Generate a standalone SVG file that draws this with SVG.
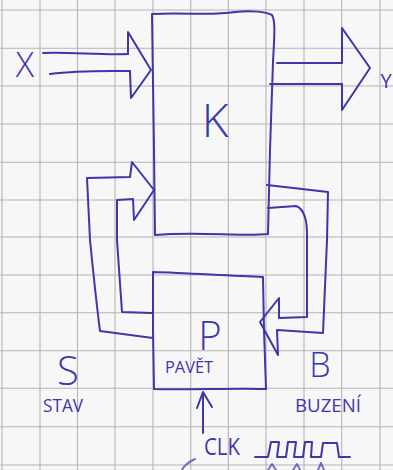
<svg xmlns="http://www.w3.org/2000/svg" width="393" height="470" viewBox="0 0 393 470">
<style>
.ink{fill:none;stroke:#3d37a8;stroke-width:2;stroke-linecap:round;stroke-linejoin:round}
.grid line{stroke:#b4b4b4;stroke-width:1.1}
.t{fill:#3d37a8;font-family:"Open Sans","Liberation Sans",sans-serif;font-weight:300;text-anchor:middle}
.s{font-weight:400}
</style>
<rect width="393" height="470" fill="#f7f7f7"/>
<g class="grid">
<line x1="2" y1="0" x2="2" y2="470"/>
<line x1="40" y1="0" x2="40" y2="470"/>
<line x1="77.5" y1="0" x2="77.5" y2="470"/>
<line x1="115" y1="0" x2="115" y2="470"/>
<line x1="153" y1="0" x2="153" y2="470"/>
<line x1="190.7" y1="0" x2="190.7" y2="470"/>
<line x1="228.3" y1="0" x2="228.3" y2="470"/>
<line x1="266" y1="0" x2="266" y2="470"/>
<line x1="304" y1="0" x2="304" y2="470"/>
<line x1="341.7" y1="0" x2="341.7" y2="470"/>
<line x1="380" y1="0" x2="380" y2="470"/>
<line x1="0" y1="10" x2="393" y2="10"/>
<line x1="0" y1="48.2" x2="393" y2="48.2"/>
<line x1="0" y1="86" x2="393" y2="86"/>
<line x1="0" y1="124" x2="393" y2="124"/>
<line x1="0" y1="162.2" x2="393" y2="162.2"/>
<line x1="0" y1="200" x2="393" y2="200"/>
<line x1="0" y1="237" x2="393" y2="237"/>
<line x1="0" y1="275" x2="393" y2="275"/>
<line x1="0" y1="312.7" x2="393" y2="312.7"/>
<line x1="0" y1="350.7" x2="393" y2="350.7"/>
<line x1="0" y1="388.3" x2="393" y2="388.3"/>
<line x1="0" y1="426.7" x2="393" y2="426.7"/>
<line x1="0" y1="465" x2="393" y2="465"/>
</g>
<g id="K">
<path class="ink" d="M152,14 C185,12 210,16 235,12 C252,10 266,12 272,15 C276,22 274,40 273,62 L270,150 L268,234 C240,237 200,231 155,235 L154,150 L152,14 Z"/>
<text class="t" x="215" y="137" font-size="46">K</text>
</g>
<g id="P">
<path class="ink" d="M153,272 C190,273 228,276 263,277 L264,330 L266,389 C230,388 190,390 154,389 L153,330 Z"/>
<text class="t" x="210" y="350" font-size="40">P</text>
<text class="t s" x="189" y="373" font-size="16" textLength="48" lengthAdjust="spacingAndGlyphs">PAVĚT</text>
</g>
<g id="connectors">
<path class="ink" d="M43,53 C70,52 100,55 128,54"/>
<path class="ink" d="M50,74 C80,70 110,71 130,71"/>
<path class="ink" d="M128,54 L128,32 L151,70 L131,98 L130,71"/>
<path class="ink" d="M277,63 H342"/>
<path class="ink" d="M270,84 H342"/>
<path class="ink" d="M342,63 L342,28 L370,68 L342,110 L342,84"/>
<path class="ink" d="M153,338 L100,331 Q96,300 90,240 L87,178 L130,177 L132,162 L154,190 L134,220 L133,199 L117,200 L117,240 L122,312 L152,313"/>
<path class="ink" d="M267,185 L328,192 L327,240 L323,333 L277,330 L278,355 L260,322 L279,298 L279,318 L307,317 L307,240 Q308,210 296,206 L268,208"/>
<path class="ink" d="M203,433 V392 M197,408 L203,392 L212,407"/>
<path class="ink" d="M255,457 H268 L271,442 H279 L277,457 H286 L288,442 H296 L294,457 H303 L305,442 H312 L311,457 H321 L323,443 H337 L339,457 H350"/>
<path class="ink" d="M195,459 C188,462 183,467 182,470 M268,470 L272,464 L276,470 M293,470 L297,464 L300,470 M318,470 L321,463 L324,470" stroke-width="1.2" opacity="0.7"/>
</g>
<g id="labels">
<text class="t s" x="386" y="88" font-size="20">Y</text>
<text class="t" x="25" y="77" font-size="34">X</text>
<text class="t" x="68" y="385" font-size="40">S</text>
<text class="t s" x="63" y="412" font-size="18" textLength="40" lengthAdjust="spacingAndGlyphs">STAV</text>
<text class="t" x="320" y="377" font-size="34">B</text>
<text class="t s" x="328" y="412" font-size="18" textLength="66" lengthAdjust="spacingAndGlyphs">BUZENÍ</text>
<text class="t s" x="222" y="455" font-size="23" textLength="36" lengthAdjust="spacingAndGlyphs">CLK</text>
</g>
</svg>
